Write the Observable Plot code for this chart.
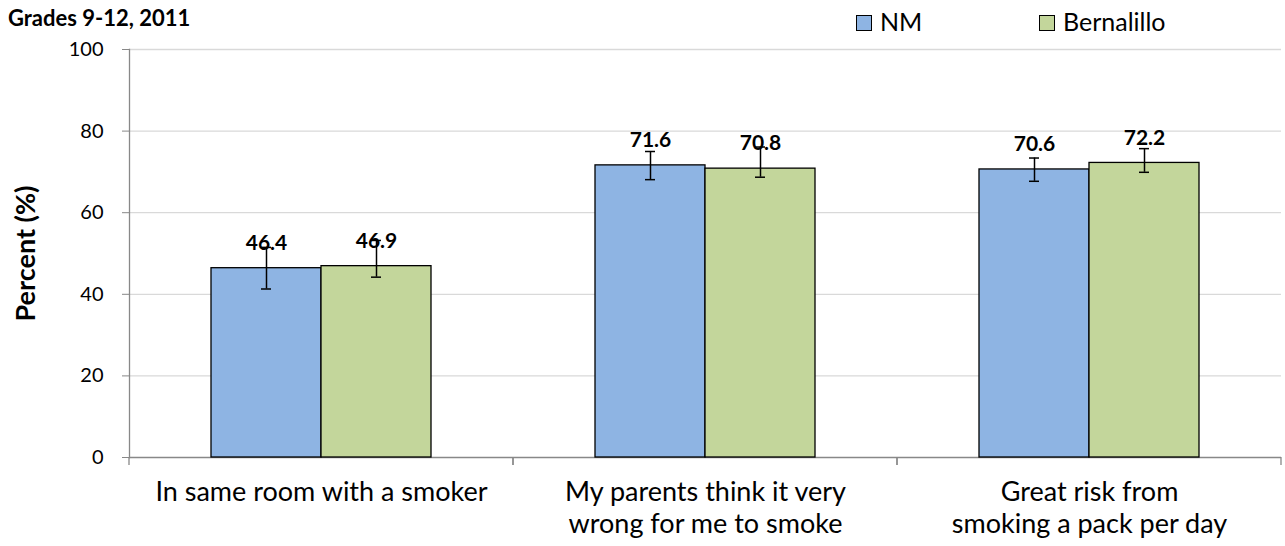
<!DOCTYPE html>
<html>
<head>
<meta charset="utf-8">
<script src="https://cdn.jsdelivr.net/npm/d3@7"></script>
<script src="https://cdn.jsdelivr.net/npm/@observablehq/plot@0.6"></script>
<style>
  body { margin: 0; background: #fff; font-family: Lato, "Open Sans", sans-serif; color: #000; }
  #wrap { width: 1285px; height: 546px; position: relative; overflow: hidden; background: #fff; }
  #head { position: relative; width: 1285px; height: 34px; }
  #title { position: absolute; left: 8px; top: 7px; font-weight: bold; font-size: 22px; line-height: 1; white-space: nowrap; }
  .item { position: absolute; top: 9px; font-size: 25px; line-height: 1; white-space: nowrap; }
  .sw { position: absolute; top: 15px; width: 16px; height: 16px; box-sizing: border-box; border: 1px solid #000; }
  svg [aria-label="y-axis label"] text { font-weight: bold; font-size: 27px; }
</style>
</head>
<body>
<div id="wrap">
  <div id="head">
    <div id="title">Grades 9-12, 2011</div>
    <div id="legend"></div>
  </div>
  <div id="chart"></div>
</div>
<script>
const categories = [
  "In same room with a smoker",
  "My parents think it very wrong for me to smoke",
  "Great risk from smoking a pack per day"
];
const categoryLabels = [
  "In same room with a smoker",
  "My parents think it very\nwrong for me to smoke",
  "Great risk from\nsmoking a pack per day"
];
const series = ["NM", "Bernalillo"];
const colors = ["#8EB4E3", "#C3D69B"];
const nmValues = [46.4, 71.6, 70.6];
const nmLower = [41.3, 68.1, 67.7];
const nmUpper = [51.5, 75.0, 73.4];
const bernValues = [46.9, 70.8, 72.2];
const bernLower = [44.2, 68.7, 69.9];
const bernUpper = [53.2, 76.1, 75.7];
const yTicks = [0, 20, 40, 60, 80, 100];

const data = [];
categories.forEach((c, i) => {
  data.push({category: c, series: "NM", value: nmValues[i], lo: nmLower[i], hi: nmUpper[i]});
  data.push({category: c, series: "Bernalillo", value: bernValues[i], lo: bernLower[i], hi: bernUpper[i]});
});

// legend (HTML, above the svg)
const legend = document.getElementById("legend");
const legendPos = [{sw: 856, tx: 880}, {sw: 1039, tx: 1063}];
series.forEach((s, i) => {
  const sw = document.createElement("div");
  sw.className = "sw";
  sw.style.left = legendPos[i].sw + "px";
  sw.style.background = colors[i];
  legend.appendChild(sw);
  const t = document.createElement("div");
  t.className = "item";
  t.style.left = legendPos[i].tx + "px";
  t.textContent = s;
  legend.appendChild(t);
});

function boundaryTicks(index, scales) {
  const r = scales.x && scales.x.range ? scales.x.range() : [0, 0];
  const y0 = scales.y(0);
  const g = d3.create("svg:g");
  for (const x of r) {
    g.append("line").attr("x1", x).attr("x2", x).attr("y1", y0).attr("y2", y0 + 8)
      .attr("stroke", "#888").attr("stroke-width", 1.3);
  }
  return g.node();
}

const chart = Plot.plot({
  width: 1285,
  height: 512,
  marginTop: 15,
  marginBottom: 89,
  marginLeft: 129,
  marginRight: 4,
  style: {fontFamily: "Lato, 'Open Sans', sans-serif", background: "white", color: "black"},
  fx: {domain: categories, padding: 0, label: null},
  x: {domain: series, paddingInner: 0, paddingOuter: 0.745, axis: null},
  y: {domain: [0, 100]},
  color: {domain: series, range: colors},
  marks: [
    Plot.gridY({ticks: yTicks.slice(1), stroke: "#d9d9d9", strokeOpacity: 1, strokeWidth: 1.3}),
    Plot.axisY({ticks: yTicks, tickSize: 7, tickPadding: 19, fontSize: 20, stroke: "#888", strokeOpacity: 1,
      label: "Percent (%)", labelAnchor: "center", labelOffset: 114, labelArrow: "none"}),
    Plot.axisFx({anchor: "bottom", tickSize: 0, tickPadding: 20, fontSize: 27, lineHeight: 1.2,
      tickFormat: c => categoryLabels[categories.indexOf(c)], label: null}),
    Plot.frame({anchor: "left", facetAnchor: "left", stroke: "#888", strokeWidth: 1.3}),
    Plot.ruleY([0], {stroke: "#888", strokeWidth: 1.3}),
    boundaryTicks,
    Plot.barY(data, {fx: "category", x: "series", y: "value", fill: "series", stroke: "black", strokeWidth: 1.3}),
    Plot.ruleX(data, {fx: "category", x: "series", y1: "lo", y2: "hi", stroke: "black", strokeWidth: 1.5}),
    Plot.tickY(data, {fx: "category", x: "series", y: "lo", insetLeft: 50, insetRight: 50, stroke: "black", strokeWidth: 1.5}),
    Plot.tickY(data, {fx: "category", x: "series", y: "hi", insetLeft: 50, insetRight: 50, stroke: "black", strokeWidth: 1.5}),
    Plot.text(data, {fx: "category", x: "series", y: "value", text: d => d.value.toFixed(1), dy: -25,
      fontSize: 21, fontWeight: "bold", fill: "black"})
  ]
});
document.getElementById("chart").appendChild(chart);
</script>
</body>
</html>
